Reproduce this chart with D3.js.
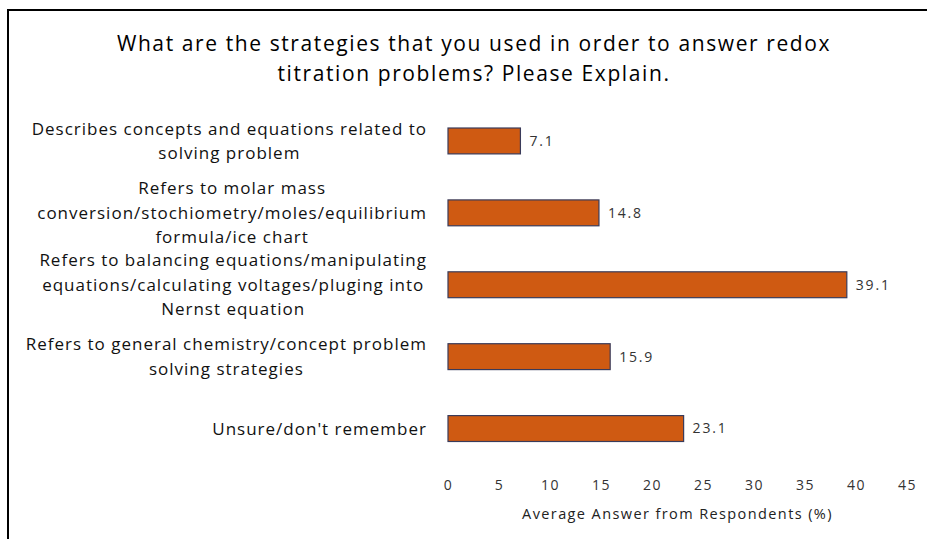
<html>
<head>
<script src="https://d3js.org/d3.v7.min.js"></script>
<style>
  body { margin: 0; background: #fff; }
  svg text { font-family: "Open Sans", Lato, sans-serif; }
</style>
</head>
<body>
<script>
// chart data
var categories = [
    ["Describes concepts and equations related to", "solving problem"],
    ["Refers to molar mass", "conversion/stochiometry/moles/equilibrium", "formula/ice chart"],
    ["Refers to balancing equations/manipulating", "equations/calculating voltages/pluging into", "Nernst equation"],
    ["Refers to general chemistry/concept problem", "solving strategies"],
    ["Unsure/don't remember"]
];
var values = [7.1, 14.8, 39.1, 15.9, 23.1];
var xTicks = [0, 5, 10, 15, 20, 25, 30, 35, 40, 45];
var titleLines = ["What are the strategies that you used in order to answer redox",
                  "titration problems? Please Explain."];
var xTitle = "Average Answer from Respondents (%)";

var width = 927, height = 539;
var margins = {left: 448, right: 20, top: 105, bottom: 75};

var svg = d3.select("body").append("svg")
    .attr("width", width)
    .attr("height", height);

// frame (top and left edges visible)
svg.append("line").attr("x1", 7).attr("x2", width).attr("y1", 10).attr("y2", 10)
    .attr("stroke", "#000").attr("stroke-width", 2);
svg.append("line").attr("x1", 8).attr("x2", 8).attr("y1", 9).attr("y2", height)
    .attr("stroke", "#000").attr("stroke-width", 2);

var xScale = d3.scaleLinear()
    .domain([0, 45])
    .range([margins.left, 907]);

var yScale = d3.scaleBand()
    .domain(d3.range(values.length))
    .range([margins.top, 464.5])
    .paddingInner(0.64)
    .paddingOuter(0.32);

// title
svg.append("g").selectAll("text")
    .data(titleLines)
    .enter()
    .append("text")
    .attr("x", 474)
    .attr("y", function(d, i) { return 51 + i * 30; })
    .attr("text-anchor", "middle")
    .attr("font-size", 21)
    .attr("letter-spacing", 1.6)
    .attr("fill", "#000")
    .text(function(d) { return d; });

// bars
svg.append("g").selectAll("rect")
    .data(values)
    .enter()
    .append("rect")
    .attr("x", xScale(0))
    .attr("y", function(d, i) { return yScale(i); })
    .attr("width", function(d) { return xScale(d) - xScale(0); })
    .attr("height", yScale.bandwidth())
    .attr("fill", "#CF5A12")
    .attr("stroke", "#3a3b5a")
    .attr("stroke-width", 1.2);

// value labels
svg.append("g").selectAll("text")
    .data(values)
    .enter()
    .append("text")
    .attr("x", function(d) { return xScale(d) + 9; })
    .attr("y", function(d, i) { return yScale(i) + yScale.bandwidth() / 2; })
    .attr("dy", "0.35em")
    .attr("font-size", 14)
    .attr("letter-spacing", 1.8)
    .attr("fill", "#333")
    .text(function(d) { return d.toFixed(1); });

// category labels: centred lines, block right aligned
var labelRight = 427;
var lineH = 24.5;
var cats = svg.append("g").selectAll("g")
    .data(categories)
    .enter()
    .append("g");

cats.each(function(lines, i) {
    var g = d3.select(this);
    var cy = yScale(i) + yScale.bandwidth() / 2;
    var texts = g.selectAll("text")
        .data(lines)
        .enter()
        .append("text")
        .attr("y", function(d, j) { return cy + (j - (lines.length - 1) / 2) * lineH; })
        .attr("dy", "0.35em")
        .attr("text-anchor", "middle")
        .attr("font-size", 17)
        .attr("letter-spacing", 1)
        .attr("fill", "#111")
        .text(function(d) { return d; });
    var maxW = d3.max(texts.nodes(), function(n) { return n.getComputedTextLength(); });
    texts.attr("x", labelRight - maxW / 2);
});

// x axis (labels only)
var xAxis = d3.axisBottom(xScale)
    .tickValues(xTicks)
    .tickSize(0)
    .tickPadding(0);

var axisG = svg.append("g")
    .attr("transform", "translate(0,480)")
    .call(xAxis);
axisG.select(".domain").remove();
axisG.selectAll("text")
    .attr("font-size", 14)
    .attr("font-family", "'Open Sans', sans-serif")
    .attr("letter-spacing", 1.5)
    .attr("fill", "#333");

svg.append("text")
    .attr("x", (xScale(0) + xScale(45)) / 2)
    .attr("y", 519)
    .attr("text-anchor", "middle")
    .attr("font-size", 14.5)
    .attr("letter-spacing", 1.4)
    .attr("fill", "#222")
    .text(xTitle);
</script>
</body>
</html>
